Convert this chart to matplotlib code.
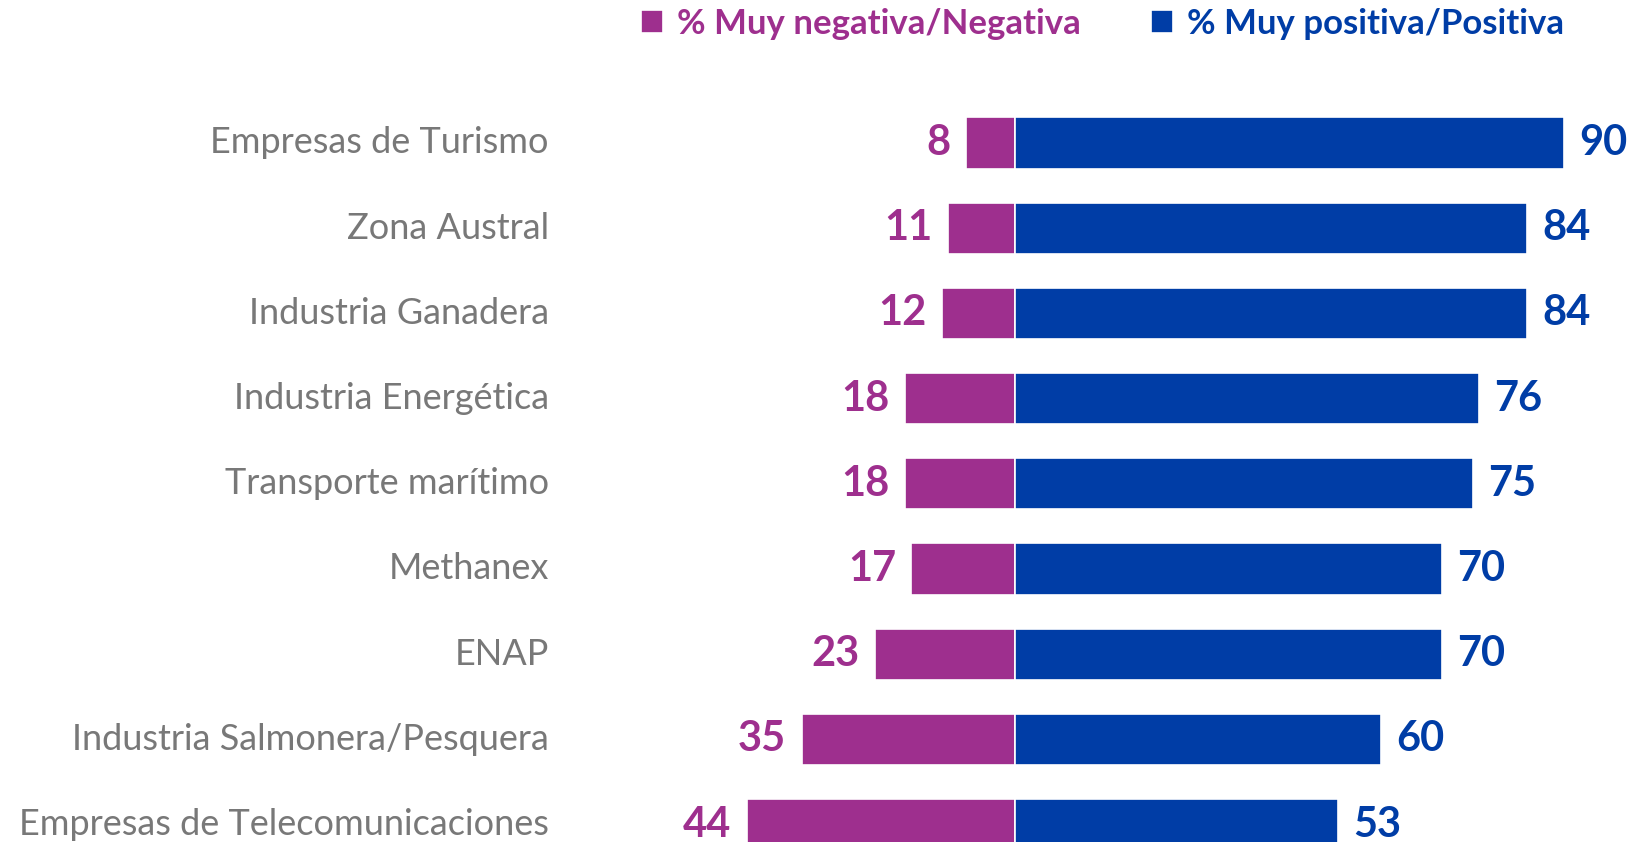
import numpy as np
import matplotlib
matplotlib.use("Agg")
import matplotlib.pyplot as plt

categorias = ["Empresas de Turismo", "Zona Austral", "Industria Ganadera",
              "Industria Energética", "Transporte marítimo", "Methanex", "ENAP",
              "Industria Salmonera/Pesquera", "Empresas de Telecomunicaciones"]
negativa = [8, 11, 12, 18, 18, 17, 23, 35, 44]
positiva = [90, 84, 84, 76, 75, 70, 70, 60, 53]
serie_neg = "% Muy negativa/Negativa"
serie_pos = "% Muy positiva/Positiva"

col_neg = "#9E2F8E"
col_pos = "#003DA6"
col_txt = "#787878"

W, H = 1629, 842
fig = plt.figure(figsize=(W / 100, H / 100), dpi=100)
ax = fig.add_axes([0, 0, 1, 1])

# pixel geometry -> data limits
x0_px, px_per_unit = 1015, 6.1
row0_px, row_px = 143, 85.2
ax.set_xlim(-x0_px / px_per_unit, (W - x0_px) / px_per_unit)
ax.set_ylim((H - row0_px) / row_px, -row0_px / row_px)

y = np.arange(len(categorias))
b_neg = ax.barh(y, -np.array(negativa), height=0.6, color=col_neg,
                edgecolor="white", linewidth=1.2, label=serie_neg)
b_pos = ax.barh(y, positiva, height=0.6, color=col_pos,
                edgecolor="white", linewidth=1.2, label=serie_pos)

ax.bar_label(b_neg, labels=[str(v) for v in negativa], padding=11,
             color=col_neg, fontsize=30, fontweight="bold", family="Lato")
ax.bar_label(b_pos, labels=[str(v) for v in positiva], padding=11,
             color=col_pos, fontsize=30, fontweight="bold", family="Lato")

lab_x = (549 - x0_px) / px_per_unit
for yi, c in zip(y, categorias):
    ax.text(lab_x, yi, c, ha="right", va="center", color=col_txt,
            fontsize=26, family="Lato", fontweight="normal")

ax.axis("off")

leg = ax.legend(handles=[b_neg, b_pos], ncol=2, loc="upper right",
                bbox_to_anchor=(1564 / W, 1 - 8 / H), bbox_transform=fig.transFigure,
                frameon=False, borderpad=0, borderaxespad=0,
                handlelength=0.65, handleheight=0.65, handletextpad=0.4,
                columnspacing=2.0, labelcolor=[col_neg, col_pos],
                prop={"family": "Lato", "weight": "bold", "size": 25})

fig.savefig("out.png", dpi=100)
